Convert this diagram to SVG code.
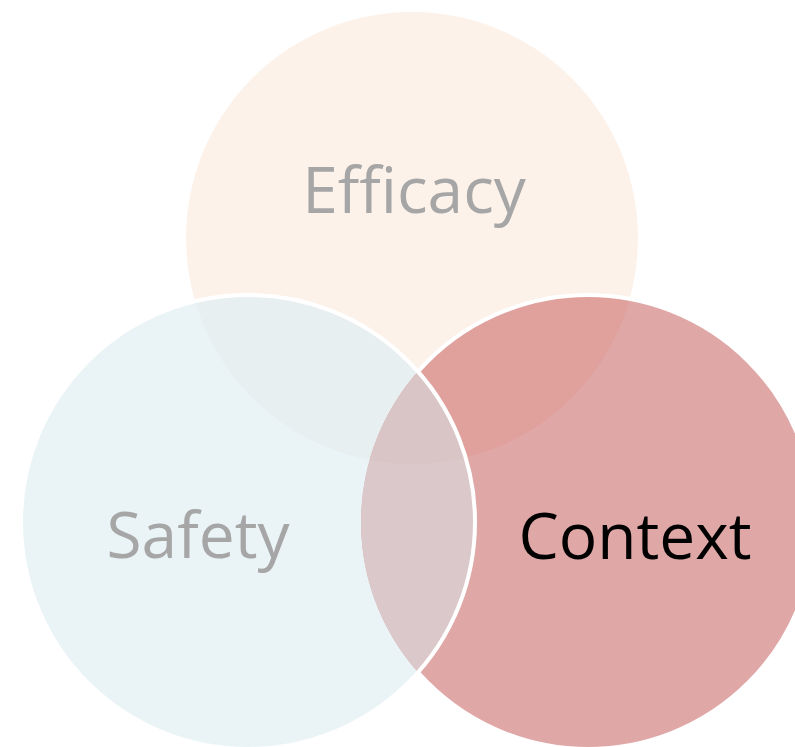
<svg xmlns="http://www.w3.org/2000/svg" width="795" height="747" viewBox="0 0 795 747">
  <defs>
    <circle id="cE" cx="412" cy="238" r="226"/>
    <circle id="cS" cx="248" cy="522" r="227"/>
    <circle id="cC" cx="588" cy="522" r="227"/>
    <clipPath id="clipS"><use href="#cS"/></clipPath>
    <clipPath id="clipC"><use href="#cC"/></clipPath>
    <mask id="outsideS">
      <rect width="795" height="747" fill="#fff"/>
      <use href="#cS" fill="#000"/>
    </mask>
    <style>
      .lbl { font-family: "Open Sans", "Noto Sans", "Liberation Sans", sans-serif; font-size: 64px; text-anchor: middle; }
      .muted { fill: #a6a6a6; }
      .edge { fill: none; stroke: #ffffff; stroke-width: 4; }
    </style>
  </defs>
  <rect width="795" height="747" fill="#ffffff"/>

  <g id="efficacy">
    <use href="#cE" fill="#fcf2ea"/>
  </g>
  <g id="safety">
    <use href="#cS" fill="#eaf4f7"/>
    <use href="#cE" fill="#e8eff0" clip-path="url(#clipS)"/>
  </g>
  <g id="context">
    <use href="#cC" fill="#e0a7a7"/>
    <use href="#cE" fill="#e0a09c" clip-path="url(#clipC)"/>
    <g clip-path="url(#clipC)">
      <use href="#cS" fill="#dbc8ca"/>
      <use href="#cE" fill="#d9c4c6" clip-path="url(#clipS)"/>
    </g>
  </g>
  <g id="edges">
    <use href="#cC" class="edge" mask="url(#outsideS)"/>
    <use href="#cS" class="edge"/>
  </g>
  <g id="labels">
    <text class="lbl muted" x="414" y="213">Efficacy</text>
    <text class="lbl muted" x="198" y="558">Safety</text>
    <text class="lbl" x="635" y="559" fill="#000000">Context</text>
  </g>
</svg>
